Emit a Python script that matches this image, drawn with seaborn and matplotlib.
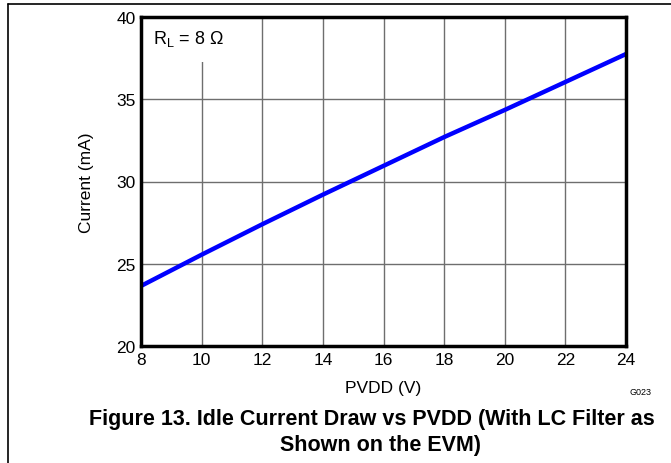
import matplotlib
matplotlib.use("Agg")
import matplotlib.pyplot as plt
import seaborn as sns
import pandas as pd
from matplotlib.lines import Line2D
from matplotlib.patches import Rectangle

# Data
pvdd = [8, 10, 12, 14, 16, 18, 20, 22, 24]
current_ma = [23.65, 25.55, 27.4, 29.2, 30.95, 32.7, 34.35, 36.05, 37.75]
x_ticks = [8, 10, 12, 14, 16, 18, 20, 22, 24]
y_ticks = [20, 25, 30, 35, 40]

df = pd.DataFrame({"pvdd": pvdd, "current": current_ma})

sns.set_style("white")
plt.rcParams["font.family"] = ["Liberation Sans", "DejaVu Sans"]
plt.rcParams["text.color"] = "black"
plt.rcParams["axes.labelcolor"] = "black"
plt.rcParams["xtick.color"] = "black"
plt.rcParams["ytick.color"] = "black"

fig = plt.figure(figsize=(6.71, 4.64), dpi=100)
ax = fig.add_axes([141 / 671, 1 - 347 / 464, (626 - 141) / 671, (347 - 18) / 464])

sns.lineplot(data=df, x="pvdd", y="current", ax=ax, color="#0000FF", linewidth=3.2, zorder=3)

ax.set_xlim(8, 24)
ax.set_ylim(20, 40)
ax.set_xticks(x_ticks)
ax.set_yticks(y_ticks)
ax.tick_params(axis="both", length=0, labelsize=12.5, pad=4)
ax.grid(True, color="#6e6e6e", linewidth=1.0)
ax.set_axisbelow(True)
for s in ax.spines.values():
    s.set_color("black")
    s.set_linewidth(2.5)
    s.set_zorder(4)

ax.set_xlabel("PVDD (V)", fontsize=12.5, labelpad=10)
ax.set_ylabel("Current (mA)", fontsize=12.5, labelpad=16)

# white patch under the R_L label (gridline is cut there)
ax.add_patch(Rectangle((0.005, 0.862), 0.2, 0.134, transform=ax.transAxes,
                       facecolor="white", edgecolor="none", zorder=2))
ax.text(0.024, 0.935, r"R$_\mathregular{L}$ = 8 Ω", transform=ax.transAxes,
        fontsize=13, va="center", ha="left", zorder=5)

fig.text(640 / 671, 1 - 393 / 464, "G023", fontsize=6.5, ha="center", va="center")
fig.text(372 / 671, 1 - 420 / 464, "Figure 13. Idle Current Draw vs PVDD (With LC Filter as",
         fontsize=15.5, fontweight="bold", ha="center", va="center")
fig.text(381 / 671, 1 - 446 / 464, "Shown on the EVM)",
         fontsize=15.5, fontweight="bold", ha="center", va="center")

# outer frame (top and left edges)
fig.add_artist(Line2D([8 / 671, 1], [1 - 5 / 464, 1 - 5 / 464], transform=fig.transFigure,
                      color="black", linewidth=1.2))
fig.add_artist(Line2D([8 / 671, 8 / 671], [0, 1 - 5 / 464], transform=fig.transFigure,
                      color="black", linewidth=1.2))

fig.savefig("out.png", dpi=100)
